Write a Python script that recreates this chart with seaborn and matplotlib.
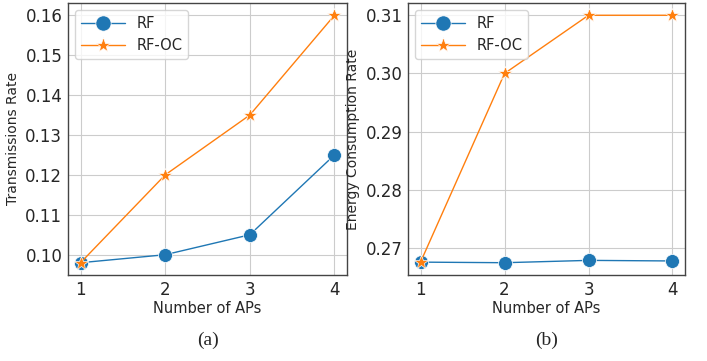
import numpy as np
import pandas as pd
import seaborn as sns
import matplotlib.pyplot as plt

aps = [1, 2, 3, 4]
trans_rf = [0.098, 0.100, 0.105, 0.125]
trans_rfoc = [0.098, 0.120, 0.135, 0.160]
energy_rf = [0.2676, 0.2675, 0.2679, 0.2678]
energy_rfoc = [0.2676, 0.300, 0.310, 0.310]

sns.set_style("whitegrid", {"axes.edgecolor": "#444444", "grid.color": "#cccccc"})
plt.rcParams["font.family"] = ["DejaVu Sans"]

fig = plt.figure(figsize=(7.07, 3.61), dpi=100)
ax1 = fig.add_axes([0.096, 0.238, 0.395, 0.754])
ax2 = fig.add_axes([0.577, 0.238, 0.392, 0.754])

def draw(ax, rf, rfoc, ylabel, caption):
    df = pd.DataFrame({"APs": aps * 2, "val": rf + rfoc,
                       "method": ["RF"] * 4 + ["RF-OC"] * 4})
    sns.lineplot(data=df, x="APs", y="val", hue="method", style="method",
                 markers={"RF": "o", "RF-OC": "*"}, dashes=False,
                 palette=["#1f77b4", "#ff7f0e"], markersize=10, linewidth=1,
                 markeredgewidth=0.5, ax=ax)
    ax.set_xticks(aps)
    ax.set_xlabel("Number of APs", fontsize=10.5, labelpad=2)
    ax.set_ylabel(ylabel, fontsize=10, labelpad=4)
    ax.tick_params(labelsize=12, length=0, pad=4)
    ax.grid(True, color="#cccccc", linewidth=0.8)
    for s in ax.spines.values():
        s.set_linewidth(1.0)
    leg = ax.legend(loc="upper left", fontsize=10.5, frameon=True,
                    handlelength=3, markerscale=1.1, borderaxespad=0.5)
    leg.set_title(None)
    ax.text(0.5, -0.24, caption, transform=ax.transAxes, ha="center", va="center",
            fontsize=14, family="Liberation Serif")

draw(ax1, trans_rf, trans_rfoc, "Transmissions Rate", "(a)")
draw(ax2, energy_rf, energy_rfoc, "Energy Consumption Rate", "(b)")
ax1.set_yticks([0.10, 0.11, 0.12, 0.13, 0.14, 0.15, 0.16])
ax1.set_yticklabels(["0.10", "0.11", "0.12", "0.13", "0.14", "0.15", "0.16"])
ax2.set_yticks([0.27, 0.28, 0.29, 0.30, 0.31])
ax2.set_yticklabels(["0.27", "0.28", "0.29", "0.30", "0.31"])

fig.savefig("out.png", dpi=100)
